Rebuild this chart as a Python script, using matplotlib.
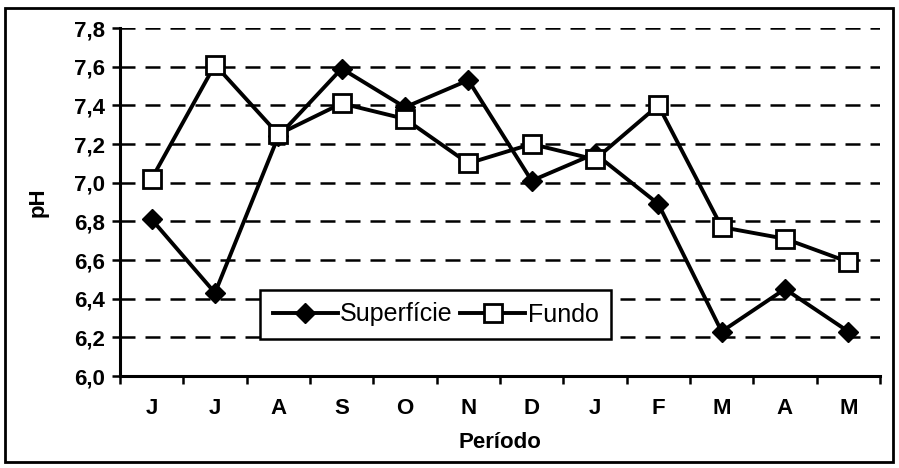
import matplotlib
matplotlib.use("Agg")
import matplotlib.pyplot as plt
import numpy as np

plt.rcParams['font.family'] = ['Liberation Sans', 'DejaVu Sans']

meses = ['J', 'J', 'A', 'S', 'O', 'N', 'D', 'J', 'F', 'M', 'A', 'M']
superficie = [6.81, 6.43, 7.24, 7.59, 7.39, 7.53, 7.01, 7.15, 6.89, 6.23, 6.45, 6.23]
fundo = [7.02, 7.61, 7.25, 7.41, 7.33, 7.10, 7.20, 7.12, 7.40, 6.77, 6.71, 6.59]
yticks = [6.0, 6.2, 6.4, 6.6, 6.8, 7.0, 7.2, 7.4, 7.6, 7.8]

fig = plt.figure(figsize=(8.99, 4.68), dpi=100)
ax = fig.add_axes([120/899, 1 - 376/468, 760/899, 348/468])

x = np.arange(len(meses))
ax.plot(x, superficie, color='black', lw=2.8, marker='D', ms=10,
        mfc='black', mec='black', label='Superfície', zorder=3)
ax.plot(x, fundo, color='black', lw=2.8, marker='s', ms=13,
        mfc='white', mec='black', mew=2, label='Fundo', zorder=4)

ax.set_xlim(-0.5, len(meses) - 0.5)
ax.set_ylim(6.0, 7.8)
ax.set_yticks(yticks)
ax.set_yticklabels([f'{v:.1f}'.replace('.', ',') for v in yticks],
                   fontsize=16, fontweight='bold')
for v in yticks[1:]:
    ax.axhline(v, color='black', lw=1.8, ls=(0, (6, 4)), zorder=1)

ax.set_xticks(x)
ax.set_xticklabels(meses, fontsize=16, fontweight='bold')
ax.set_xticks(np.arange(-0.5, len(meses)), minor=True)
ax.tick_params(axis='x', which='major', length=0, pad=16)
ax.tick_params(axis='x', which='minor', length=6, width=1.8, direction='out')
ax.tick_params(axis='y', length=6, width=1.8, direction='out', pad=5)

for s in ['top', 'right']:
    ax.spines[s].set_visible(False)
for s in ['left', 'bottom']:
    ax.spines[s].set_linewidth(2.2)

ax.set_xlabel('Período', fontsize=16, fontweight='bold', labelpad=9)
ax.set_ylabel('pH', fontsize=16, fontweight='bold', labelpad=18)

leg = ax.legend(loc='upper left', bbox_to_anchor=((260 - 120) / 760, (376 - 290) / 348),
                ncol=2, frameon=True, fancybox=False, fontsize=18, framealpha=1,
                handlelength=2.6, columnspacing=0.3, handletextpad=0.1,
                borderpad=0.5, borderaxespad=0)
leg.get_frame().set_edgecolor('black')
leg.get_frame().set_linewidth(1.8)

fig.patches.append(plt.Rectangle((5/899, 1 - 462/468), 888/899, 454/468,
                                 transform=fig.transFigure, fill=False,
                                 edgecolor='black', lw=2))

fig.savefig('out.png', dpi=100)
